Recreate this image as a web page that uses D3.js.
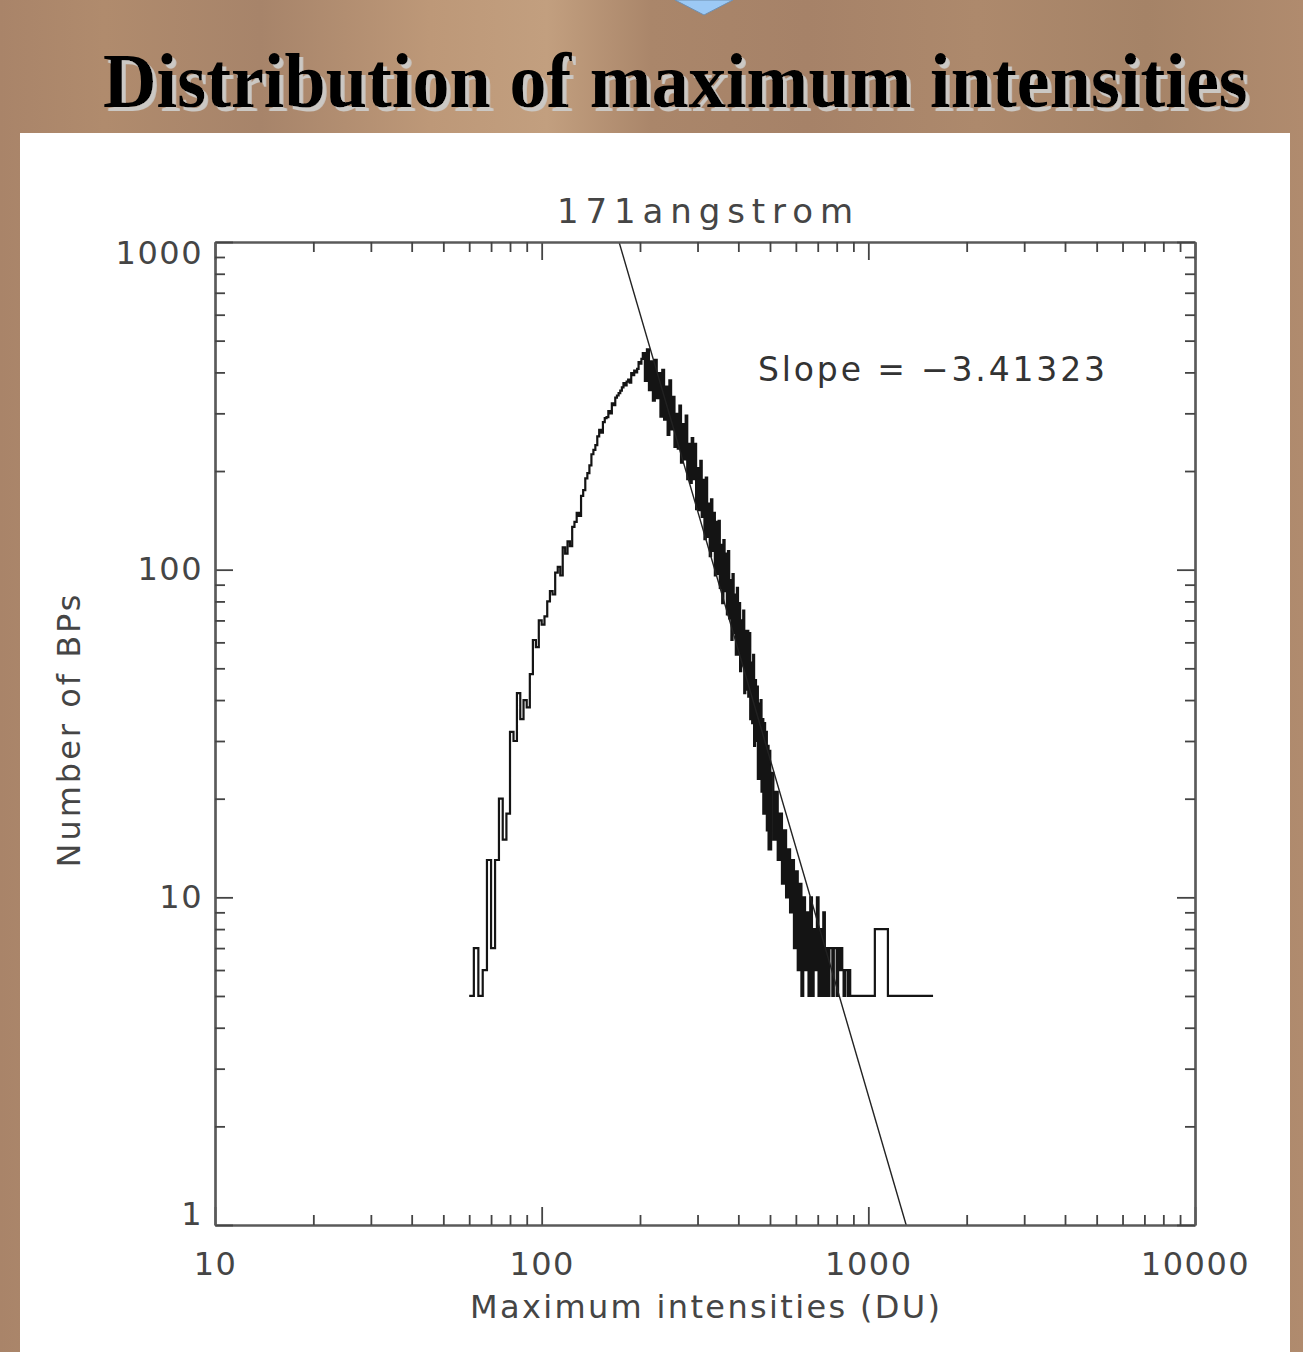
<!DOCTYPE html>
<html>
<head>
<meta charset="utf-8">
<script src="https://cdn.jsdelivr.net/npm/d3@7"></script>
<style>
  body { margin: 0; background: #a8856a; }
</style>
</head>
<body>
<svg id="chart" width="1303" height="1352" font-family="'DejaVu Sans', sans-serif"></svg>
<script>
"use strict"
// ---- data ----
// histogram of maximum intensities (DU), counts per bin
var riseStart = 60, riseBin = 2
var riseCounts = [5,7,5,6,13,7,13,20,15,18,32,30,42,35,40,38,48,61,58,70,68,72,80,86,84,98,102,96,117,112,
  122,118,135,140,149,146,168,175,190,197,208,225,232,240,255,267,262,282,290,292,305,300,322,318,335,340,
  346,352,360,371,365,375,380,372,398,392,405,400,410,430,425,440]

var peakStart = 204, peakBin = 3
var peakCounts = [458,377,470,353,432,328,437,334,398,293,407,287,362,258,378,268,337,237,299,234,
  317,212,278,217,295,189,242,184,252,189,242,153,204,152,215,145,188,124,191,126,
  159,110,164,114,149,96,140,97,141,88,119,79,123,86,112,73,114,71,93,61,
  97,64,84,55,88,55,79,49,70,51,75,42,65,43,65,41,64,35,52,34,
  55,29,46,30,44,23,39,23,40,21,35,18,34,18,32,16,29,14,28,14]

var tailStart = 504, tailBin = 8
var tailCounts = [24,15,21,13,18,11,16,10,14,9,13,7,12,6,11,5,10,6,9,5,
  10,5,8,6,10,5,8,5,9,5,7,5,7,7,5,7,7,5,7,6,
  7,6,5,6,6,5,6,5,5,5]

var farEdges = [904, 1047, 1148, 1578]
var farCounts = [5, 8, 5]

// power-law fit
var fitSlope = -3.41323
var fitIntercept = 10.635   // log10 of counts at intensity 1
var fitRange = [150, 1400]

var xMajor = [10, 100, 1000, 10000]
var xMinor = [20,30,40,50,60,70,80,90,200,300,400,500,600,700,800,900,2000,3000,4000,5000,6000,7000,8000,9000]
var yMajor = [1, 10, 100, 1000]
var yMinor = [2,3,4,5,6,7,8,9,20,30,40,50,60,70,80,90,200,300,400,500,600,700,800,900]

var title = "Distribution of maximum intensities"
var plotTitle = "171angstrom"
var xAxisTitle = "Maximum intensities (DU)"
var yAxisTitle = "Number of BPs"
var slopeText = "Slope = \u22123.41323"

// ---- layout ----
var width = 1303, height = 1352
var plot = {left: 215, right: 1195, top: 242, bottom: 1225}
var textColor = "#454545"

var svg = d3.select("#chart")
var defs = svg.append("defs")

// brown slide background
var grad = defs.append("linearGradient").attr("id", "wood")
  .attr("x1", 0).attr("x2", 1).attr("y1", 0).attr("y2", 0)
var stops = [[0, "#a98469"], [0.08, "#b08b6d"], [0.2, "#a7846a"], [0.33, "#bd9878"], [0.42, "#c29f7f"],
  [0.5, "#aa866a"], [0.62, "#a68268"], [0.75, "#ad896c"], [0.88, "#a58367"], [1, "#b08b6e"]]
stops.forEach(function(s) {
  grad.append("stop").attr("offset", s[0]).attr("stop-color", s[1])
})
svg.append("rect").attr("width", width).attr("height", height).attr("fill", "url(#wood)")

// little blue arrow tip at the top
svg.append("path")
  .attr("d", "M675,0 L733,0 L704,15 Z")
  .attr("fill", "#9cc9f5").attr("stroke", "#6f8fb0").attr("stroke-width", 1)

// slide title with a flat grey shadow, squeezed to the slide width
defs.append("filter").attr("id", "shadow")
  .attr("x", "-5%").attr("y", "-30%").attr("width", "110%").attr("height", "170%")
  .append("feDropShadow")
  .attr("dx", 4).attr("dy", 4).attr("stdDeviation", 0.5)
  .attr("flood-color", "#cbc8c4").attr("flood-opacity", 1)

var titleWidth = 1145
var titleEl = svg.append("text")
  .attr("font-family", "'Liberation Serif', 'Times New Roman', serif")
  .attr("font-weight", "bold")
  .attr("font-size", 78)
  .attr("fill", "#000")
  .attr("filter", "url(#shadow)")
  .text(title)
var squeeze = titleWidth / titleEl.node().getComputedTextLength()
titleEl.attr("transform", "translate(103,107) scale(" + squeeze + ",1)")

// white panel
svg.append("rect").attr("x", 20).attr("y", 133).attr("width", 1270).attr("height", height - 133)
  .attr("fill", "#fff")

// ---- scales ----
var x = d3.scaleLog().domain([10, 10000]).range([plot.left, plot.right])
var y = d3.scaleLog().domain([1, 1000]).range([plot.bottom, plot.top])

defs.append("clipPath").attr("id", "plotClip").append("rect")
  .attr("x", plot.left).attr("y", plot.top)
  .attr("width", plot.right - plot.left).attr("height", plot.bottom - plot.top)

// ---- histogram ----
var hist = []
riseCounts.forEach(function(c, i) { hist.push([riseStart + i * riseBin, c]) })
peakCounts.forEach(function(c, i) { hist.push([peakStart + i * peakBin, c]) })
tailCounts.forEach(function(c, i) { hist.push([tailStart + i * tailBin, c]) })
farCounts.forEach(function(c, i) { hist.push([farEdges[i], c]) })
hist.push([farEdges[farEdges.length - 1], farCounts[farCounts.length - 1]])

var step = d3.line()
  .x(function(d) { return x(d[0]) })
  .y(function(d) { return y(d[1]) })
  .curve(d3.curveStepAfter)

var plotG = svg.append("g").attr("clip-path", "url(#plotClip)")
plotG.append("path")
  .datum(hist)
  .attr("d", step)
  .attr("fill", "none")
  .attr("stroke", "#141414")
  .attr("stroke-width", 2.2)

// fit line
var fit = fitRange.map(function(v) {
  return [v, Math.pow(10, fitIntercept + fitSlope * Math.log10(v))]
})
plotG.append("path")
  .datum(fit)
  .attr("d", d3.line().x(function(d) { return x(d[0]) }).y(function(d) { return y(d[1]) }))
  .attr("fill", "none")
  .attr("stroke", "#222")
  .attr("stroke-width", 1.4)

// ---- axes (box with ticks on all sides) ----
function drawAxis(axis, tx, ty) {
  var g = svg.append("g").attr("transform", "translate(" + tx + "," + ty + ")").call(axis)
  g.attr("font-family", null).attr("font-size", null)
  g.select(".domain").attr("stroke", "#5a5a5a").attr("stroke-width", 2.2)
  g.selectAll(".tick line").attr("stroke", "#444").attr("stroke-width", 1.8)
  g.selectAll(".tick text")
    .attr("fill", textColor)
    .attr("font-size", 32)
    .attr("letter-spacing", 1.5)
  return g
}

var fmt = d3.format("d")
drawAxis(d3.axisBottom(x).tickValues(xMajor).tickFormat(fmt).tickSizeInner(-18).tickSizeOuter(0).tickPadding(27), 0, plot.bottom)
drawAxis(d3.axisBottom(x).tickValues(xMinor).tickFormat("").tickSizeInner(-10).tickSizeOuter(0), 0, plot.bottom)
drawAxis(d3.axisTop(x).tickValues(xMajor).tickFormat("").tickSizeInner(-18).tickSizeOuter(0), 0, plot.top)
drawAxis(d3.axisTop(x).tickValues(xMinor).tickFormat("").tickSizeInner(-10).tickSizeOuter(0), 0, plot.top)
var yAx = drawAxis(d3.axisLeft(y).tickValues(yMajor).tickFormat(fmt).tickSizeInner(-18).tickSizeOuter(0).tickPadding(12), plot.left, 0)
drawAxis(d3.axisLeft(y).tickValues(yMinor).tickFormat("").tickSizeInner(-10).tickSizeOuter(0), plot.left, 0)
drawAxis(d3.axisRight(y).tickValues(yMajor).tickFormat("").tickSizeInner(-18).tickSizeOuter(0), plot.right, 0)
drawAxis(d3.axisRight(y).tickValues(yMinor).tickFormat("").tickSizeInner(-10).tickSizeOuter(0), plot.right, 0)

// end labels sit just inside the box, as in the original plot
yAx.selectAll(".tick text").attr("y", function(d) {
  return d === 1000 ? 11 : d === 1 ? -11 : 0
})

// ---- texts ----
svg.append("text")
  .attr("x", 705).attr("y", 223)
  .attr("text-anchor", "middle")
  .attr("font-size", 34)
  .attr("fill", textColor)
  .attr("textLength", 296).attr("lengthAdjust", "spacing")
  .text(plotTitle)

svg.append("text")
  .attr("x", 705).attr("y", 1318)
  .attr("text-anchor", "middle")
  .attr("font-size", 32)
  .attr("fill", textColor)
  .attr("textLength", 470).attr("lengthAdjust", "spacing")
  .text(xAxisTitle)

svg.append("text")
  .attr("transform", "translate(80,731) rotate(-90)")
  .attr("text-anchor", "middle")
  .attr("font-size", 32)
  .attr("fill", textColor)
  .attr("textLength", 273).attr("lengthAdjust", "spacing")
  .text(yAxisTitle)

svg.append("text")
  .attr("x", 758).attr("y", 381)
  .attr("font-size", 33)
  .attr("fill", "#333")
  .attr("textLength", 347).attr("lengthAdjust", "spacing")
  .text(slopeText)
</script>
</body>
</html>
